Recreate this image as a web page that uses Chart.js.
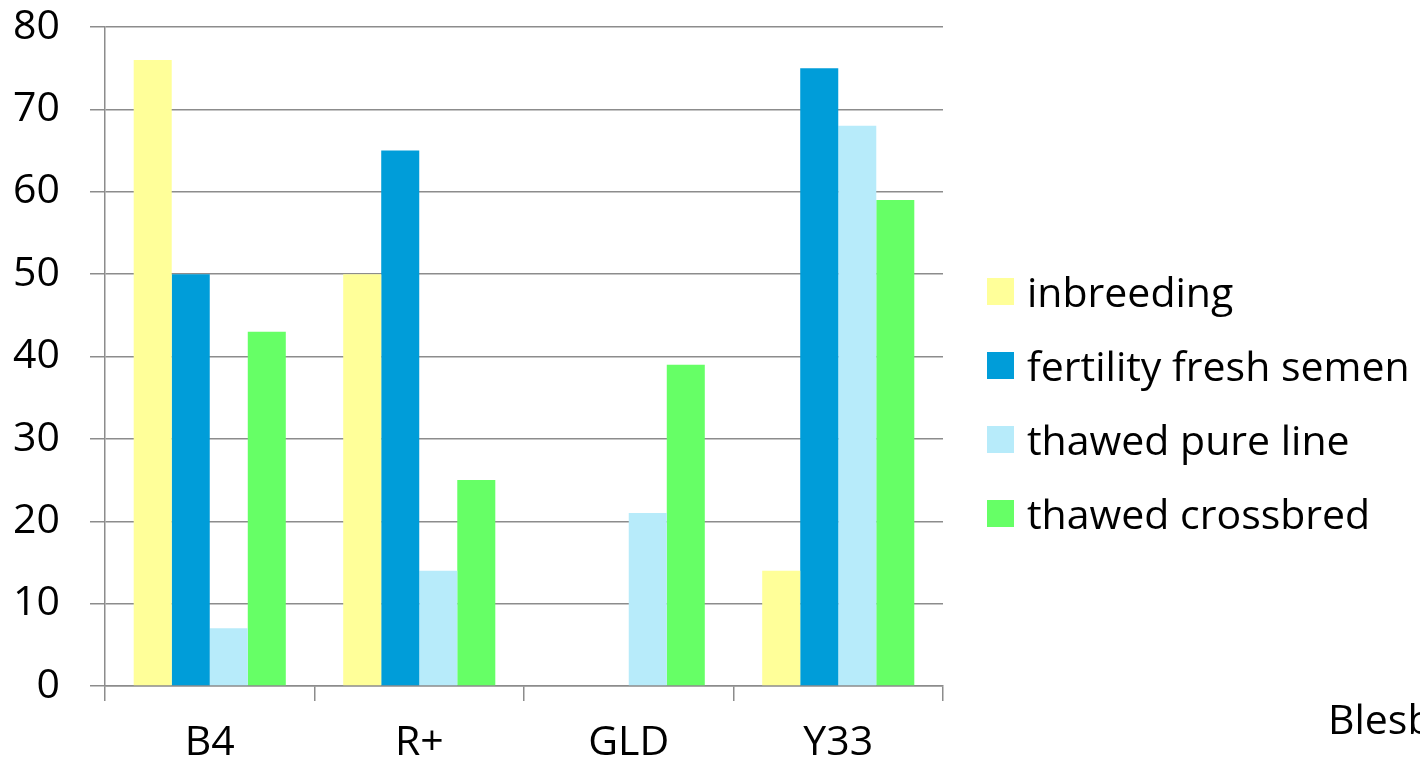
<!DOCTYPE html>
<html>
<head>
<meta charset="utf-8">
<script src="https://cdn.jsdelivr.net/npm/chart.js@4.4.1/dist/chart.umd.min.js"></script>
<style>
  html, body { margin: 0; padding: 0; background: #fff; overflow: hidden; }
  #wrap { position: relative; width: 1420px; height: 767px; overflow: hidden; }
  #chart { position: absolute; left: 0; top: 0; }
  #legend { position: absolute; left: 987px; top: 254px; font: 41px "Open Sans", sans-serif; color: #000; white-space: nowrap; }
  #legend .item { height: 74px; display: flex; align-items: center; }
  #legend .box { width: 27px; height: 27px; margin-right: 13px; flex: none; }
  #note { position: absolute; left: 1328px; top: 690px; font: 41px "Open Sans", sans-serif; color: #000; white-space: nowrap; }
</style>
</head>
<body>
<div id="wrap">
  <canvas id="chart" width="1420" height="767"></canvas>
  <div id="legend"></div>
  <div id="note">Blesbok</div>
</div>
<script>
var CATEGORIES = ['B4', 'R+', 'GLD', 'Y33'];
var SERIES = ['inbreeding', 'fertility fresh semen', 'thawed pure line', 'thawed crossbred'];
var INBREEDING = [76, 50, null, 14];
var FRESH_SEMEN = [50, 65, null, 75];
var PURE_LINE = [7, 14, 21, 68];
var CROSSBRED = [43, 25, 39, 59];
var Y_TICKS = [0, 10, 20, 30, 40, 50, 60, 70, 80];

var COLORS = ['#FFFF99', '#009DD9', '#B7EBFA', '#66FF66'];
var GRID = '#8c8c8c';
var FONT = '"Open Sans", sans-serif';

Chart.defaults.font.family = FONT;
Chart.defaults.animation = false;

var values = [INBREEDING, FRESH_SEMEN, PURE_LINE, CROSSBRED];
var datasets = SERIES.map(function (name, i) {
  return {
    label: name, data: values[i], backgroundColor: COLORS[i], borderWidth: 0,
    barPercentage: 1, categoryPercentage: 0.726
  };
});

var chart = new Chart(document.getElementById('chart'), {
  type: 'bar',
  data: { labels: CATEGORIES, datasets: datasets },
  options: {
    responsive: false,
    layout: { padding: { top: 27, right: 477, left: 0, bottom: 0 } },
    plugins: { legend: { display: false }, tooltip: { enabled: false } },
    scales: {
      y: {
        min: 0, max: 80,
        afterFit: function (s) { s.width = 105; s.paddingTop = 0; s.paddingBottom = 0; },
        afterBuildTicks: function (s) { s.ticks = Y_TICKS.map(function (v) { return { value: v }; }); },
        grid: { color: GRID, lineWidth: 1.5, tickLength: 15 },
        border: { color: GRID, width: 1.5 },
        ticks: { color: '#000', padding: 30, font: { size: 41 } }
      },
      x: {
        afterFit: function (s) { s.height = 81; s.paddingLeft = 0; s.paddingRight = 0; },
        grid: { color: GRID, lineWidth: 1.5, tickLength: 15, drawOnChartArea: false, offset: true },
        border: { color: GRID, width: 1.5 },
        ticks: { color: '#000', padding: 18, font: { size: 41 } }
      }
    }
  }
});

/* legend as html, built from the datasets */
document.getElementById('legend').innerHTML = chart.data.datasets.map(function (d) {
  return '<div class="item"><span class="box" style="background:' + d.backgroundColor + '"></span>' + d.label + '</div>';
}).join('');
</script>
</body>
</html>
